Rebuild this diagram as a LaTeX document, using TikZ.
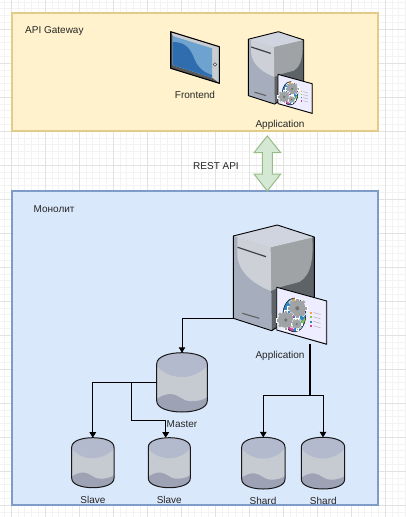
\documentclass[tikz,border=0pt]{standalone}
\usepackage{fontspec}
\setmainfont{Liberation Sans}
\usetikzlibrary{arrows.meta}
\definecolor{gmin}{HTML}{F3F3F3}
\definecolor{gmaj}{HTML}{E2E2E2}
\definecolor{yfill}{HTML}{FFF2CC}
\definecolor{ystroke}{HTML}{E3CB88}
\definecolor{bfill}{HTML}{DAE8FC}
\definecolor{bstroke}{HTML}{7F9CC8}
\definecolor{gfill}{HTML}{D5E8D4}
\definecolor{gstroke}{HTML}{97BC85}
\definecolor{cyltop}{HTML}{B4BACD}
\definecolor{cylbody}{HTML}{C6CAD1}
\definecolor{cylbot}{HTML}{9DA3B5}
\definecolor{srvtop}{HTML}{D0D4DF}
\definecolor{srvleft}{HTML}{A6AEBD}
\definecolor{srvgloss}{HTML}{CDD1D7}
\definecolor{srvright}{HTML}{9FA3A5}
\definecolor{srvdark}{HTML}{5E6367}
\definecolor{gearc}{HTML}{A0A3A6}
\definecolor{tabl}{HTML}{6FA3CF}
\definecolor{tabd}{HTML}{2F6DAE}
\definecolor{tabb}{HTML}{C9CDD1}
\definecolor{piepink}{HTML}{C8479A}
\definecolor{pieblue}{HTML}{2E86C8}
\definecolor{pieor}{HTML}{F0A830}
\definecolor{piegr}{HTML}{8CC63F}
\tikzset{
  lbl/.style={font=\fontsize{10}{12}\selectfont, text=black!85, inner sep=0pt},
  zone/.style={line width=1.15pt},
  spot/.style={inner sep=0pt, outer sep=0pt, draw=none},
  conn/.style={draw=black, line width=1pt, -{Triangle[length=5.5pt,width=6.5pt]}},
  plainconn/.style={draw=black, line width=1pt}
}
\newcommand{\cylart}[4]{% x y w h
  \begin{scope}[shift={(#1,#2)},xscale=#3,yscale=#4]
    \path[clip] (0,.19) .. controls (0,.06) and (.25,0) .. (.5,0) .. controls (.75,0) and (1,.06) .. (1,.19) -- (1,.81) .. controls (1,.94) and (.75,1) .. (.5,1) .. controls (.25,1) and (0,.94) .. (0,.81) -- cycle;
    \fill[cylbody] (0,0) rectangle (1,1);
    \fill[cyltop] (0,0) -- (1,0) -- (1,.22) .. controls (.85,.36) and (.65,.41) .. (.5,.41) .. controls (.3,.41) and (.12,.34) .. (0,.22) -- cycle;
    \fill[cylbot] (0,.78) .. controls (.1,.72) and (.2,.69) .. (.3,.70) .. controls (.45,.71) and (.5,.82) .. (.68,.82) .. controls (.8,.82) and (.92,.8) .. (1,.75) -- (1,1) -- (0,1) -- cycle;
  \end{scope}
  \draw[black!90,line width=1pt] (#1,#2+.19*#4) .. controls (#1,#2+.06*#4) and (#1+.25*#3,#2) .. (#1+.5*#3,#2) .. controls (#1+.75*#3,#2) and (#1+#3,#2+.06*#4) .. (#1+#3,#2+.19*#4) -- (#1+#3,#2+.81*#4) .. controls (#1+#3,#2+.94*#4) and (#1+.75*#3,#2+#4) .. (#1+.5*#3,#2+#4) .. controls (#1+.25*#3,#2+#4) and (#1,#2+.94*#4) .. (#1,#2+.81*#4) -- cycle;
}
\newcommand{\geararts}[3]{% x y r
  \foreach \ang in {0,45,...,315}{
    \fill[gearc,draw=white,line width=.3pt] (#1,#2) ++(\ang-14:#3*.75) -- ++(\ang:#3*.3) -- ++(\ang+90:#3*.36) -- ++(\ang+180:#3*.3) -- cycle;
  }
  \fill[gearc] (#1,#2) circle (#3*.82);
  \fill[black!55] (#1,#2) circle (#3*.2);
}
\newcommand{\serverart}[3]{% x y scale
  \begin{scope}[shift={(#1,#2)},scale=#3]
    \fill[srvtop] (0,11) -- (44,0) -- (81,12) -- (37.4,22.3) -- cycle;
    \fill[srvleft] (0,11) -- (37.4,22.3) -- (38.4,105.7) -- (0,93.3) -- cycle;
    \fill[srvdark] (37.4,22.3) -- (81,12) -- (81,78) -- (38.4,105.7) -- cycle;
    \fill[srvright] (37.4,22.3) -- (79,12.5) .. controls (80,30) and (79,50) .. (66,57) .. controls (55,60) and (45,62) .. (37.8,66) -- cycle;
    \fill[srvgloss] (4,12.5) -- (37.4,22.3) -- (37.8,66) .. controls (22,60) and (5,48) .. (4,30) -- cycle;
    \fill[srvtop] (4,12.5) -- (37.4,22.3) -- (79,12.5) -- (44,2) -- cycle;
    \draw[black!75,line width=1.2pt] (4.3,22.3) -- (32.7,31.7);
    \draw[black!60,line width=1.2pt] (9,88.3) -- (26,93.3);
    \draw[black,line width=.9pt,line join=round] (0,11) -- (44,0) -- (81,12) -- (81,78) -- (38.4,105.7) -- (0,93.3) -- cycle;
    % panel
    \fill[gray!60] (43.4,105) -- (93.4,119.3) -- (93.4,76) -- (92,76) -- (92,117) -- cycle;
    \fill[white!93!blue] (43.4,62.3) -- (92.2,75.6) -- (92.2,118) -- (43.4,105) -- cycle;
    \draw[black,line width=.9pt,line join=round] (43.4,62.3) -- (93.4,76) -- (93.4,119.3) -- (43.4,105) -- cycle;
    % pie
    \fill[pieblue] (61,90) ellipse (11.5 and 17);
    \fill[piepink] (61,90) -- (49.5,90) arc (180:95:11.5 and 17) -- cycle;
    \fill[pieor] (59,73.2) -- (64,73.4) -- (63,82) -- (59,82) -- cycle;
    \fill[piegr] (66,100) -- (72,92) -- (71.5,97) -- cycle;
    \draw[black,line width=.4pt] (61,90) ellipse (11.5 and 17);
    \geararts{64}{83.3}{10}
    \geararts{52.4}{95}{9.5}
    \geararts{63.4}{99}{5.5}
    % legend
    \foreach \yy/\cc in {86.7/pieor,91/piegr,95.5/pieblue,100/piepink}{
      \fill[\cc] (76.5,\yy) rectangle ++(2,2);
      \draw[gray!70,line width=.4pt] (80.2,\yy+.8) -- ++(7,2);
    }
  \end{scope}
}
\begin{document}
\begin{tikzpicture}[x=1pt,y=-1pt]
\useasboundingbox (0,0) rectangle (406,517);
\fill[white] (0,0) rectangle (406,517);
% grid
\foreach \k in {-1,...,59}{
  \draw[gmin,line width=.6pt] ({4.2+6.8*\k},0) -- ({4.2+6.8*\k},517);
}
\foreach \k in {-1,...,76}{
  \draw[gmin,line width=.6pt] (0,{1.8+6.8*\k}) -- (406,{1.8+6.8*\k});
}
\foreach \k in {0,...,11}{
  \draw[gmaj,line width=.6pt] ({11+34*\k},0) -- ({11+34*\k},517);
}
\foreach \k in {0,...,15}{
  \draw[gmaj,line width=.6pt] (0,{-5+34*\k}) -- (406,{-5+34*\k});
}
% zones
\node[spot,draw=ystroke,fill=yfill,zone,minimum width=366pt,minimum height=118pt] (gateway) at (195,72) {};
\node[spot,draw=bstroke,fill=bfill,zone,minimum width=366pt,minimum height=314pt] (mono) at (195,348) {};
% double arrow
\draw[gstroke,fill=gfill,line width=1pt,line join=miter] (267.3,136) -- (280.7,152.7) -- (272.3,152.7) -- (272.3,174) -- (280.7,174) -- (267.3,191) -- (254,174) -- (262.3,174) -- (262.3,152.7) -- (254,152.7) -- cycle;
% tablet
\fill[tabb] (170.7,31.7) -- (219.3,46.7) -- (219.3,83.3) -- (170.7,68.3) -- cycle;
\fill[black!65] (170.7,31.7) -- (172.7,36) -- (172.7,65) -- (212,77.7) -- (219.3,83.3) -- (170.7,68.3) -- cycle;
\fill[tabl] (172.7,36) -- (212,48.3) -- (212,77.7) -- (172.7,65) -- cycle;
\fill[tabd] (172.7,42) .. controls (185,42) and (190,48) .. (194,58) .. controls (197,66) and (202,72) .. (212,75) -- (212,77.7) -- (172.7,65) -- cycle;
\draw[black,line width=1.1pt,line join=round] (170.7,31.7) -- (219.3,46.7) -- (219.3,83.3) -- (170.7,68.3) -- cycle;
\draw[black!70,fill=white!80!gray,line width=.5pt] (215,64.5) circle (1.7);
% servers
\node[spot,minimum width=64pt,minimum height=81pt] (appTop) at (280.3,72.2) {};
\serverart{248.3}{31.7}{.685}
\node[spot,minimum width=93.4pt,minimum height=119.3pt] (appMain) at (280,284.6) {};
\serverart{233.3}{225}{1}
% cylinders
\node[spot,minimum width=50.6pt,minimum height=59.3pt] (master) at (182,382.4) {};
\cylart{156.7}{352.7}{50.6}{59.3}
\node[spot,minimum width=42.3pt,minimum height=50pt] (slaveA) at (92.8,462.7) {};
\cylart{71.7}{437.7}{42.3}{50}
\node[spot,minimum width=42pt,minimum height=50pt] (slaveB) at (169.3,462.7) {};
\cylart{148.3}{437.7}{42}{50}
\node[spot,minimum width=43.3pt,minimum height=51.7pt] (shardA) at (263.3,463.2) {};
\cylart{241.7}{437.3}{43.3}{51.7}
\node[spot,minimum width=43.4pt,minimum height=51.7pt] (shardB) at (323,463.2) {};
\cylart{301.3}{437.3}{43.4}{51.7}
% connector joints
\coordinate (appOut) at (233.3,318.3);
\coordinate (appDown) at (310,343.5);
\coordinate (shardJoin) at (310,395);
\coordinate (masterOut) at (156.7,382.7);
\coordinate (masterTee) at (131.7,382.7);
\coordinate (teeLow) at (131.7,420.7);
\coordinate (teeEnd) at (165.7,420.7);
% connectors
\draw[conn] (appOut) -| (master.north);
\draw[conn] (masterOut) -| (slaveA.north);
\draw[plainconn] (masterTee) -- (teeLow) -- (teeEnd);
\draw[conn] (teeEnd) -- (teeEnd |- slaveB.north);
\draw[plainconn,line width=1.2pt] (appDown) -- (shardJoin);
\draw[conn] (shardJoin) -| (shardA.north);
\draw[conn] (shardJoin) -| (shardB.north);
% labels
\node[lbl,anchor=west] (tGateway) at (25,31) {API Gateway};
\node[lbl,anchor=west] (tMono) at (33.5,209) {Монолит};
\node[lbl] (tFront) at (195,95) {Frontend};
\node[lbl] (tAppTop) at (280,125) {Application};
\node[lbl] (tRest) at (216,166.5) {REST API};
\node[lbl] (tApp) at (280,356) {Application};
\node[lbl] (tMaster) at (182,424) {Master};
\node[lbl] (tSlaveA) at (93,500) {Slave};
\node[lbl] (tSlaveB) at (169.3,500) {Slave};
\node[lbl] (tShardA) at (263,501) {Shard};
\node[lbl] (tShardB) at (323.3,501) {Shard};
\end{tikzpicture}
\end{document}
